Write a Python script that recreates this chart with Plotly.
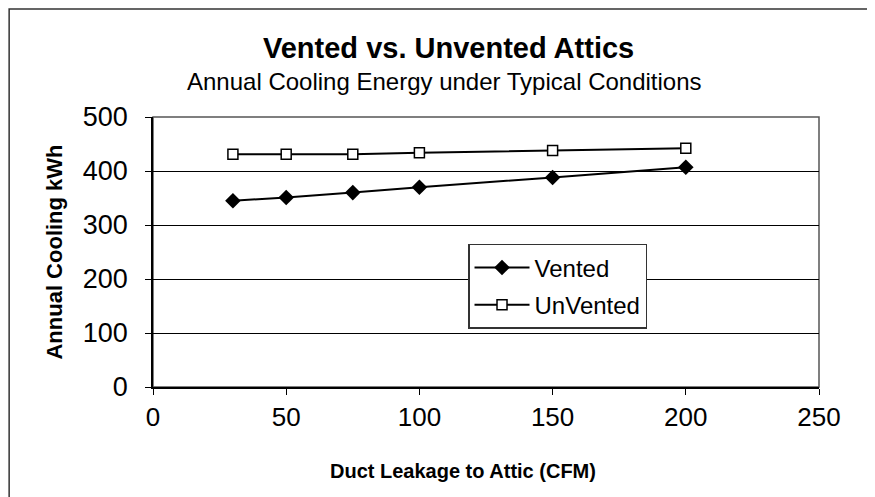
import plotly.graph_objects as go

# datos
leakage = [30, 50, 75, 100, 150, 200]
vented = [345, 351, 360, 370, 388, 407]
unvented = [431, 431, 431, 434, 438, 442]

FONT = "Liberation Sans, Arial, sans-serif"

fig = go.Figure()

fig.add_trace(go.Scatter(x=leakage, y=vented, mode='lines+markers', name='Vented',
                         legendgroup='a',
                         line=dict(color='black', width=2),
                         marker=dict(symbol='diamond', size=12, color='black')))

fig.add_trace(go.Scatter(x=leakage, y=unvented, mode='lines+markers', name='UnVented',
                         legendgroup='b',
                         line=dict(color='black', width=2),
                         marker=dict(symbol='square', size=10, color='white',
                                     line=dict(color='black', width=1.5))))

# marco exterior del grafico
fig.add_shape(type='rect', xref='paper', yref='paper',
              x0=-0.216, x1=1.3, y0=-0.6, y1=1.4,
              line=dict(color='#333333', width=1.5), layer='below')

# borde del area de trazado
fig.add_shape(type='rect', xref='paper', yref='paper',
              x0=0, x1=1, y0=0, y1=1,
              line=dict(color='#555555', width=1.5), layer='below')

# titulos
fig.add_annotation(text="<b>Vented vs. Unvented Attics</b>", xref='paper', yref='paper',
                   x=0.443, y=1.2556, xanchor='center', yanchor='middle',
                   showarrow=False, font=dict(size=29, family=FONT, color='black'))
fig.add_annotation(text="Annual Cooling Energy under Typical Conditions", xref='paper', yref='paper',
                   x=0.438, y=1.13, xanchor='center', yanchor='middle',
                   showarrow=False, font=dict(size=24, family=FONT, color='black'))
fig.add_annotation(text="<b>Duct Leakage to Attic (CFM)</b>", xref='paper', yref='paper',
                   x=0.465, y=-0.311, xanchor='center', yanchor='middle',
                   showarrow=False, font=dict(size=20, family=FONT, color='black'))

fig.update_layout(
    width=867, height=489,
    margin=dict(l=145, r=56, t=109, b=110),
    paper_bgcolor='white', plot_bgcolor='white',
    font=dict(family=FONT, color='black'),
    showlegend=True,
    legend=dict(x=0.473, y=0.53, xanchor='left', yanchor='top',
                bgcolor='white', bordercolor='#333333', borderwidth=1.5,
                font=dict(size=24, family=FONT), tracegroupgap=3,
                traceorder='grouped', itemwidth=55),
)

fig.update_xaxes(range=[0, 250], dtick=50, showgrid=False, zeroline=False,
                 showline=True, linecolor='black', linewidth=1.5,
                 ticks='outside', ticklen=6, tickcolor='black',
                 tickfont=dict(size=26, family=FONT))

fig.update_yaxes(range=[0, 500], dtick=100, showgrid=True, gridcolor='black',
                 gridwidth=1, zeroline=False,
                 showline=True, linecolor='black', linewidth=1.5,
                 ticks='outside', ticklen=6, tickcolor='black',
                 ticklabelstandoff=12,
                 tickfont=dict(size=27, family=FONT),
                 title=dict(text='<b>Annual Cooling kWh</b>',
                            font=dict(size=22, family=FONT), standoff=14))

fig.write_html("out.html")
